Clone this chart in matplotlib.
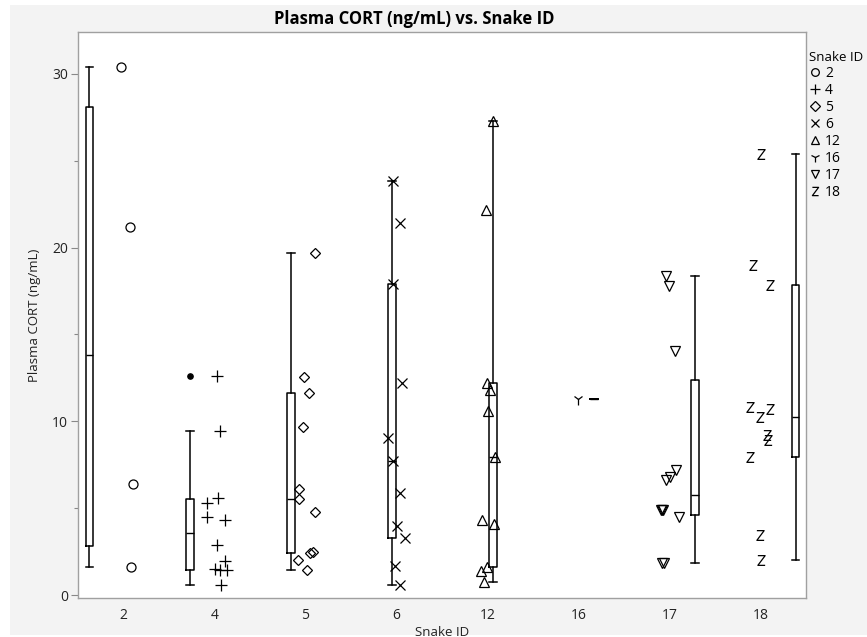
import numpy as np
import matplotlib
matplotlib.use('Agg')
import matplotlib.pyplot as plt
from matplotlib.lines import Line2D
from matplotlib.patches import Rectangle
from matplotlib.path import Path

plt.rcParams['font.family'] = ['Open Sans', 'DejaVu Sans']

# ---------------- data ----------------
snake_ids = ['2', '4', '5', '6', '12', '16', '17', '18']

cort_2 = [30.4, 21.2, 6.4, 1.6]
jit_2 = [-0.03, 0.07, 0.10, 0.08]

cort_4 = [12.6, 9.44, 5.57, 5.31, 4.47, 4.32, 2.86, 1.96, 1.52, 1.44, 1.44, 0.6]
jit_4 = [0.03, 0.06, 0.04, -0.08, -0.08, 0.11, 0.03, 0.11, 0.01, 0.06, 0.14, 0.07]

cort_5 = [19.67, 12.57, 11.61, 9.65, 6.08, 5.51, 4.76, 2.49, 2.40, 2.01, 1.44]
jit_5 = [0.10, -0.02, 0.04, -0.03, -0.07, -0.07, 0.10, 0.08, 0.05, -0.08, 0.02]

cort_6 = [23.85, 21.4, 17.9, 12.19, 9.06, 7.7, 5.89, 3.97, 3.3, 1.67, 0.56]
jit_6 = [-0.04, 0.04, -0.04, 0.06, -0.09, -0.04, 0.04, 0.0, 0.09, -0.02, 0.04]

cort_12 = [27.3, 22.16, 12.19, 11.8, 10.59, 7.96, 4.32, 4.09, 1.63, 1.4, 0.77]
jit_12 = [0.06, -0.02, -0.01, 0.03, 0.0, 0.08, -0.06, 0.07, -0.01, -0.07, -0.04]

cort_16 = [11.27]
jit_16 = [-0.01]

cort_17 = [18.37, 17.79, 14.07, 7.2, 6.81, 6.62, 4.92, 4.92, 4.92, 4.51, 1.87, 1.87]
jit_17 = [-0.04, -0.01, 0.06, 0.07, 0.01, -0.04, -0.09, -0.08, -0.07, 0.10, -0.08, -0.06]

cort_18 = [25.39, 19.0, 17.85, 10.84, 10.69, 10.26, 9.2, 8.93, 7.96, 3.44, 2.01]
jit_18 = [0.01, -0.08, 0.10, -0.11, 0.10, -0.01, 0.07, 0.08, -0.11, -0.01, 0.01]

values = [cort_2, cort_4, cort_5, cort_6, cort_12, cort_16, cort_17, cort_18]
jitters = [jit_2, jit_4, jit_5, jit_6, jit_12, jit_16, jit_17, jit_18]

# ---------------- styles ----------------
z_marker = Path([(-0.75, 1.0), (0.75, 1.0), (-0.75, -1.0), (0.75, -1.0)],
                [Path.MOVETO, Path.LINETO, Path.LINETO, Path.LINETO])
markers = ['o', '+', 'D', 'x', '^', '1', 'v', z_marker]
msizes = [6.5, 8.5, 5.6, 6.5, 7.5, 8.0, 7.5, 7.0]
box_offsets = np.linspace(-0.375, 0.385, len(snake_ids))

W, H = 867, 637
fig = plt.figure(figsize=(W / 100, H / 100), dpi=100, facecolor='white')
fig.patches.append(Rectangle((10 / W, 2 / H), (W - 10) / W, 630 / H,
                             transform=fig.transFigure, facecolor='#f3f3f3',
                             edgecolor='none', zorder=-10))
ax = fig.add_axes([78 / W, 1 - 598 / H, (806 - 78) / W, (598 - 32) / H])
ax.set_facecolor('white')

# points
for i, (vals, jit) in enumerate(zip(values, jitters)):
    xs = i + np.array(jit)
    ax.plot(xs, vals, linestyle='none', marker=markers[i], markersize=msizes[i],
            markerfacecolor='none', markeredgecolor='black',
            markeredgewidth=0.9, color='black', zorder=3)

# box plots (JMP-style quantiles)
stats = []
for vals in values:
    a = np.array(vals, dtype=float)
    if len(a) > 1:
        q1, med, q3 = np.percentile(a, [25, 50, 75], method='weibull')
    else:
        q1 = med = q3 = a[0]
    iqr = q3 - q1
    lo_f, hi_f = q1 - 1.5 * iqr, q3 + 1.5 * iqr
    inside = a[(a >= lo_f) & (a <= hi_f)]
    stats.append(dict(med=med, q1=q1, q3=q3,
                      whislo=inside.min(), whishi=inside.max(),
                      fliers=a[(a < lo_f) | (a > hi_f)]))

positions = np.arange(len(snake_ids)) + box_offsets
ax.bxp(stats, positions=positions, widths=0.085, capwidths=0.085,
       showfliers=True, manage_ticks=False,
       boxprops=dict(color='black', linewidth=1.1),
       whiskerprops=dict(color='black', linewidth=1.1),
       capprops=dict(color='black', linewidth=1.1),
       medianprops=dict(color='black', linewidth=1.0),
       flierprops=dict(marker='o', markersize=3.8, markerfacecolor='black',
                       markeredgecolor='black'),
       zorder=2)

ax.set_xlim(-0.5, 7.5)
ax.set_ylim(-0.17, 32.41)
ax.set_xticks(np.arange(len(snake_ids)))
ax.set_xticklabels(snake_ids)
ax.set_yticks([0, 10, 20, 30])
ax.set_yticks([5, 15, 25], minor=True)
ax.tick_params(axis='x', length=0, pad=7, labelsize=10, labelcolor='#222222')
ax.tick_params(axis='y', which='major', length=5, width=0.8, color='#888888',
               labelsize=10, labelcolor='#222222', pad=2)
ax.tick_params(axis='y', which='minor', length=3, width=0.8, color='#888888')
for s in ax.spines.values():
    s.set_color('#a0a0a0')
    s.set_linewidth(1.0)

ax.set_xlabel('Snake ID', fontsize=9.5, color='#222222', labelpad=2)
ax.set_ylabel('Plasma CORT (ng/mL)', fontsize=9.5, color='#222222', labelpad=8)

fig.text(414 / W, 1 - 19 / H, 'Plasma CORT (ng/mL) vs. Snake ID',
         ha='center', va='center', fontsize=12, fontweight='bold', color='black')

# legend
handles = []
for i, lab in enumerate(snake_ids):
    handles.append(Line2D([], [], linestyle='none', marker=markers[i],
                          markersize=msizes[i] * 0.85,
                          markerfacecolor='none', markeredgecolor='black',
                          markeredgewidth=0.9, color='black', label=lab))
leg = fig.legend(handles=handles, loc='upper left',
                 bbox_to_anchor=(809 / W, 1 - 51 / H), frameon=False,
                 title='Snake ID', fontsize=10, title_fontsize=9.5,
                 handlelength=0.8, handletextpad=0.35, labelspacing=0.14,
                 borderpad=0, borderaxespad=0, alignment='left')

fig.savefig('out.png', dpi=100, facecolor=fig.get_facecolor())
